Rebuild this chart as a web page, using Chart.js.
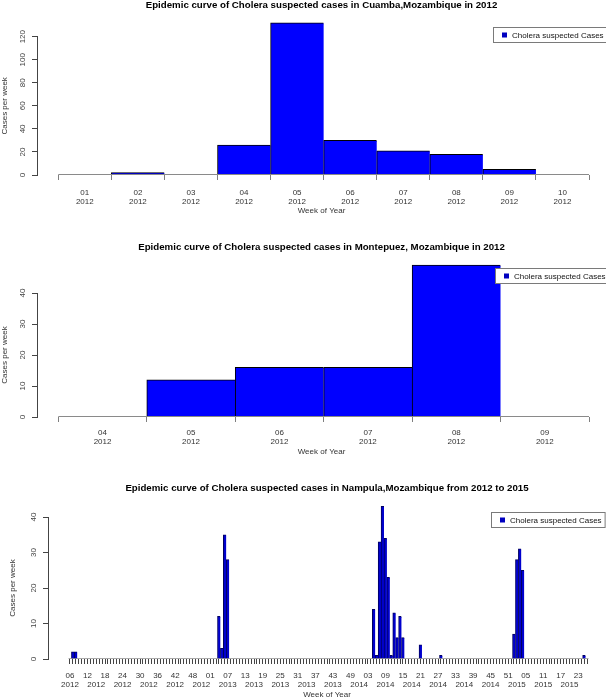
<!DOCTYPE html>
<html>
<head>
<meta charset="utf-8">
<title>Epidemic curves - Cholera suspected cases, Mozambique</title>
<script src="https://cdn.jsdelivr.net/npm/chart.js@4.4.1/dist/chart.umd.min.js"></script>
<style>
  html, body { margin: 0; padding: 0; background: #fff; }
  #page { position: relative; width: 606px; height: 698px; overflow: hidden; }
  #page canvas { position: absolute; left: 0; }
</style>
</head>
<body>
<div id="page">
  <canvas id="cuambaChart" width="606" height="218" style="top:0px"></canvas>
  <canvas id="montepuezChart" width="606" height="228" style="top:230px"></canvas>
  <canvas id="nampulaChart" width="606" height="238" style="top:460px"></canvas>
</div>
<script>
/* Epidemic curves of cholera suspected cases (Cuamba, Montepuez, Nampula)
   - 3 bar charts, R barplot look: rotated y labels, week/year tick labels
   - boxed legend drawn inside the top right corner */

// --- Data ---
const SERIES_LABEL = 'Cholera suspected Cases';

// Cuamba, 2012
const cuambaWeeks = ['01', '02', '03', '04', '05', '06', '07', '08', '09', '10'];
const cuambaYears = ['2012', '2012', '2012', '2012', '2012', '2012', '2012', '2012', '2012', '2012'];
const cuambaCases = [0, 2, 0, 26, 132, 30, 21, 18, 5, 0];
const cuambaYTicks = [0, 20, 40, 60, 80, 100, 120];

// Montepuez, 2012
const montepuezWeeks = ['04', '05', '06', '07', '08', '09'];
const montepuezYears = ['2012', '2012', '2012', '2012', '2012', '2012'];
const montepuezCases = [0, 12, 16, 16, 49, 0];
const montepuezYTicks = [0, 10, 20, 30, 40];

// Nampula, week 06/2012 -> week 26/2015 (one value per week)
const nampulaCases = [
    0, 2, 2, 0, 0, 0, 0, 0, 0, 0, 0, 0, 0, 0, 0, 0, 0, 0, 0, 0,
    0, 0, 0, 0, 0, 0, 0, 0, 0, 0, 0, 0, 0, 0, 0, 0, 0, 0, 0, 0,
    0, 0, 0, 0, 0, 0, 0, 0, 0, 0, 0, 12, 3, 35, 28, 0, 0, 0, 0, 0,
    0, 0, 0, 0, 0, 0, 0, 0, 0, 0, 0, 0, 0, 0, 0, 0, 0, 0, 0, 0,
    0, 0, 0, 0, 0, 0, 0, 0, 0, 0, 0, 0, 0, 0, 0, 0, 0, 0, 0, 0,
    0, 0, 0, 0, 14, 1, 33, 43, 34, 23, 1, 13, 6, 12, 6, 0, 0, 0, 0, 0,
    4, 0, 0, 0, 0, 0, 0, 1, 0, 0, 0, 0, 0, 0, 0, 0, 0, 0, 0, 0,
    0, 0, 0, 0, 0, 0, 0, 0, 0, 0, 0, 0, 7, 28, 31, 25, 0, 0, 0, 0,
    0, 0, 0, 0, 0, 0, 0, 0, 0, 0, 0, 0, 0, 0, 0, 0, 1, 0
];
// week labels printed every 6th week
const nampulaTickWeeks = ['06', '12', '18', '24', '30', '36', '42', '48', '01', '07',
    '13', '19', '25', '31', '37', '43', '49', '03', '09', '15',
    '21', '27', '33', '39', '45', '51', '05', '11', '17', '23'];
// year row printed every 9th week
const nampulaYearRow = ['2012', '2012', '2012', '2012', '2012', '2012', '2013', '2013', '2013', '2013',
    '2013', '2014', '2014', '2014', '2014', '2014', '2014', '2015', '2015', '2015'];
const nampulaYTicks = [0, 10, 20, 30, 40];

// --- Styles ---
Chart.defaults.font.family = '"Liberation Sans", Arial, Helvetica, sans-serif';
Chart.defaults.color = '#333';
const AXIS_COLOR = '#444';
const TEXT_COLOR = '#333';
const NONE = 'rgba(0,0,0,0)';

// --- Legend box (R style legend "topright") ---
const boxLegend = {
    id: 'boxLegend',
    afterDraw(chart, args, opts) {
        const ds = chart.data.datasets.find(d => d.type === 'bar');
        const ctx = chart.ctx;
        ctx.save();
        ctx.font = '8px "Liberation Sans", Arial, sans-serif';
        const w = 19 + ctx.measureText(ds.label).width + 3;
        const h = 15;
        ctx.fillStyle = '#fff';
        ctx.fillRect(opts.left, opts.top, w, h);
        ctx.strokeStyle = '#7a7a7a';
        ctx.lineWidth = 1;
        ctx.strokeRect(opts.left + 0.5, opts.top + 0.5, w, h);
        ctx.fillStyle = opts.swatch;
        ctx.fillRect(opts.left + 9, opts.top + h / 2 - 2, 5, 5);
        ctx.fillStyle = '#111';
        ctx.textBaseline = 'middle';
        ctx.fillText(ds.label, opts.left + 19, opts.top + h / 2 + 1);
        ctx.restore();
    }
};

// === Build one epidemic curve ===
function drawEpicurve(canvasId, cfg) {
    const n = cfg.cases.length;

    const scales = {
        x: {
            type: 'linear',
            min: cfg.xMin,
            max: cfg.xMax,
            offset: false,
            weight: 0,
            afterBuildTicks: (scale) => { scale.ticks = cfg.xTicks.map(v => ({ value: v })); },
            afterFit: (scale) => { scale.height = cfg.xHeight; },
            border: { display: false },
            grid: {
                offset: false,
                drawOnChartArea: false,
                tickLength: 5,
                tickWidth: 1,
                tickColor: (c) => cfg.isMark(c.tick.value) ? cfg.markColor : NONE
            },
            ticks: {
                autoSkip: false,
                minRotation: 0,
                maxRotation: 0,
                padding: cfg.xPad,
                color: TEXT_COLOR,
                font: { size: 8, lineHeight: 1.1 },
                callback: cfg.xLabel
            },
            title: {
                display: !cfg.yearRow,
                text: 'Week of Year',
                color: TEXT_COLOR,
                font: { size: 8, lineHeight: 1.1 },
                padding: { top: 0, bottom: cfg.xTitlePad }
            }
        },
        y: {
            min: 0,
            max: cfg.yTicks[cfg.yTicks.length - 1],
            afterBuildTicks: (scale) => { scale.ticks = cfg.yTicks.map(v => ({ value: v })); },
            afterFit: (scale) => { scale.width = cfg.yWidth; },
            border: { display: true, color: AXIS_COLOR, width: 1 },
            grid: { drawOnChartArea: false, tickLength: 5, tickColor: AXIS_COLOR },
            ticks: {
                minRotation: 90,
                maxRotation: 90,
                crossAlign: 'center',
                padding: cfg.yPad,
                color: '#444',
                font: { size: 8 }
            },
            title: {
                display: true,
                text: 'Cases per week',
                color: TEXT_COLOR,
                font: { size: 8, lineHeight: 1.1 },
                padding: { top: cfg.yTitlePad, bottom: 0 }
            }
        }
    };

    // second row of labels (years) on its own axis
    if (cfg.yearRow) {
        scales.x2 = {
            type: 'linear',
            position: 'bottom',
            min: cfg.xMin,
            max: cfg.xMax,
            offset: false,
            weight: 1,
            afterBuildTicks: (scale) => { scale.ticks = cfg.yearRow.map((y, k) => ({ value: k * 9 + 0.5 })); },
            afterFit: (scale) => { scale.height = cfg.x2Height; },
            border: { display: false },
            grid: { display: false, drawTicks: false, offset: false },
            ticks: {
                autoSkip: false,
                minRotation: 0,
                maxRotation: 0,
                padding: cfg.x2Pad,
                color: TEXT_COLOR,
                font: { size: 8, lineHeight: 1.1 },
                callback: (v, i) => cfg.yearRow[i]
            },
            title: {
                display: true,
                text: 'Week of Year',
                color: TEXT_COLOR,
                font: { size: 8, lineHeight: 0.75 },
                padding: { top: 0, bottom: cfg.xTitlePad }
            }
        };
    }

    return new Chart(document.getElementById(canvasId), {
        type: 'bar',
        data: {
            datasets: [{
                type: 'bar',
                label: SERIES_LABEL,
                data: cfg.cases.map((v, i) => ({ x: i + 0.5, y: v })),
                backgroundColor: cfg.barColor,
                borderColor: cfg.barBorder,
                borderWidth: { left: 1, top: 1, right: 0, bottom: 0 },
                barThickness: 'flex',
                barPercentage: 1,
                categoryPercentage: 1,
                clip: false,
                order: 1
            }, {
                // x axis line from first to last bar edge
                type: 'line',
                label: 'axis',
                data: [{ x: 0, y: 0 }, { x: n, y: 0 }],
                borderColor: cfg.baseColor,
                borderWidth: cfg.baseWidth,
                pointRadius: 0,
                order: 0
            }]
        },
        options: {
            responsive: false,
            animation: false,
            events: [],
            layout: { padding: 0 },
            plugins: {
                legend: { display: false },
                tooltip: { enabled: false },
                title: {
                    display: true,
                    text: cfg.title,
                    fullSize: false,
                    color: '#000',
                    font: { size: 9.7, weight: 'bold', lineHeight: 1 },
                    padding: { top: cfg.titleTop, bottom: cfg.titleBottom }
                },
                boxLegend: { left: cfg.legendLeft, top: cfg.legendTop, swatch: '#0000c0' }
            },
            scales: scales
        },
        plugins: [boxLegend]
    });
}

// tick values at bar edges (marks) and bar centres (labels)
function edgeAndCentreTicks(count) {
    const t = [];
    for (let i = 0; i <= count; i++) {
        t.push(i);
        if (i < count) t.push(i + 0.5);
    }
    return t;
}

// === Chart 1: Cuamba ===
drawEpicurve('cuambaChart', {
    title: 'Epidemic curve of Cholera suspected cases in Cuamba,Mozambique in 2012',
    cases: cuambaCases,
    yTicks: cuambaYTicks,
    xMin: -0.401, xMax: 10.32,
    xTicks: edgeAndCentreTicks(cuambaCases.length),
    isMark: (v) => Number.isInteger(v),
    xLabel: (v) => Number.isInteger(v) ? '' : [cuambaWeeks[Math.floor(v)], cuambaYears[Math.floor(v)]],
    markColor: '#7f7f7f',
    barColor: '#0000ff', barBorder: '#000',
    baseColor: '#8a8a8a', baseWidth: 2,
    xHeight: 43, xPad: 8.3, xTitlePad: 2.9,
    yWidth: 37, yPad: 2.1, yTitlePad: 0,
    titleTop: 0, titleBottom: 27,
    legendLeft: 493, legendTop: 27
});

// === Chart 2: Montepuez ===
drawEpicurve('montepuezChart', {
    title: 'Epidemic curve of Cholera suspected cases in Montepuez, Mozambique in 2012',
    cases: montepuezCases,
    yTicks: montepuezYTicks,
    xMin: -0.241, xMax: 6.192,
    xTicks: edgeAndCentreTicks(montepuezCases.length),
    isMark: (v) => Number.isInteger(v),
    xLabel: (v) => Number.isInteger(v) ? '' : [montepuezWeeks[Math.floor(v)], montepuezYears[Math.floor(v)]],
    markColor: '#7f7f7f',
    barColor: '#0000ff', barBorder: '#000',
    baseColor: '#8a8a8a', baseWidth: 2,
    xHeight: 41, xPad: 6.3, xTitlePad: 1.6,
    yWidth: 37, yPad: 4.3, yTitlePad: 0,
    titleTop: 12.2, titleBottom: 41.1,
    legendLeft: 495, legendTop: 38
});

// === Chart 3: Nampula 2012-2015 ===
drawEpicurve('nampulaChart', {
    title: 'Epidemic curve of Cholera suspected cases in Nampula,Mozambique from 2012 to 2015',
    cases: nampulaCases,
    yTicks: nampulaYTicks,
    xMin: -7.02, xMax: 184.0,
    xTicks: nampulaCases.map((v, i) => i + 0.5),
    isMark: () => true,
    xLabel: (v, i) => i % 6 === 0 ? nampulaTickWeeks[i / 6] : '',
    markColor: AXIS_COLOR,
    barColor: '#0000cd', barBorder: '#000060',
    baseColor: '#555', baseWidth: 1,
    yearRow: nampulaYearRow,
    xHeight: 21, xPad: 7.6, x2Height: 18, x2Pad: 0.6, xTitlePad: 0,
    yWidth: 48, yPad: 5.2, yTitlePad: 8.6,
    titleTop: 23.2, titleBottom: 24.1,
    legendLeft: 491, legendTop: 52
});
</script>
</body>
</html>
